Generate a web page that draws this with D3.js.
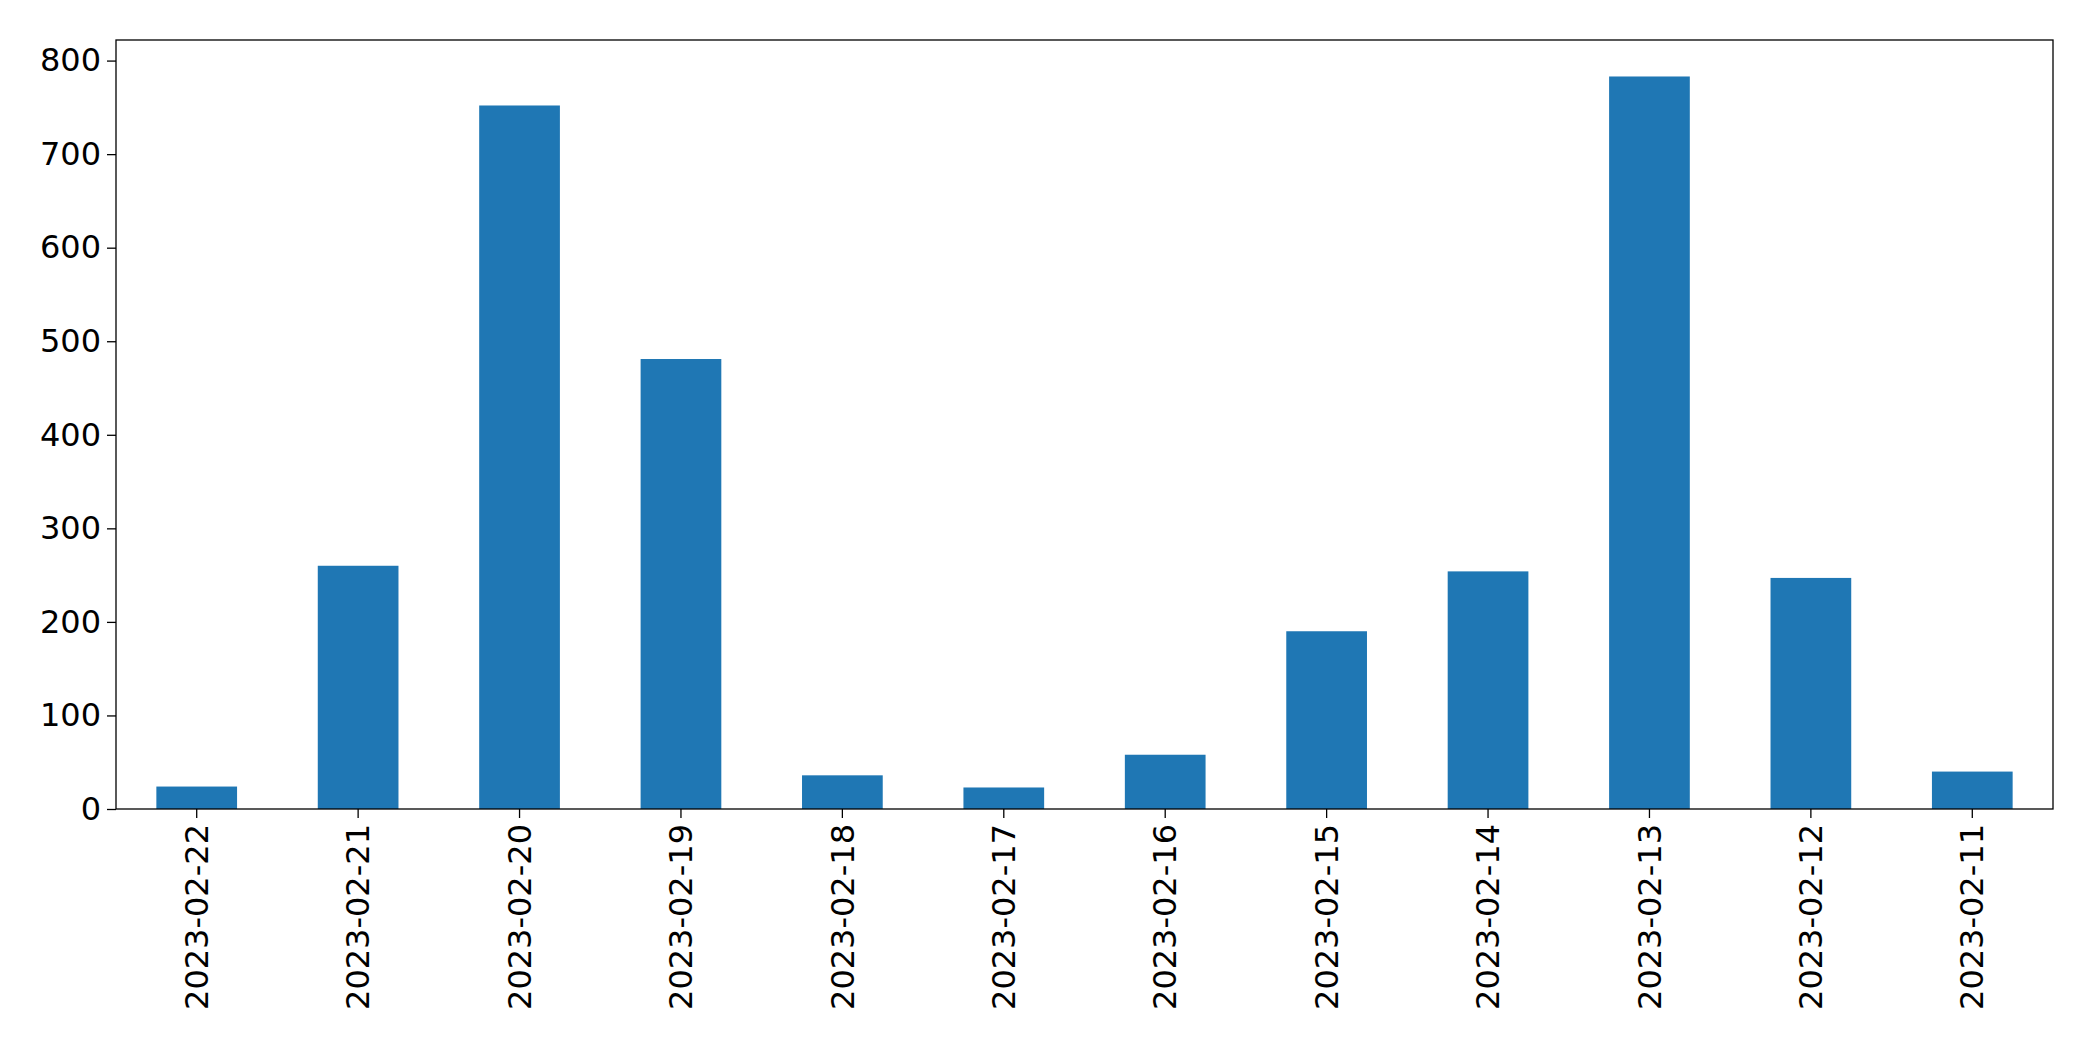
<!DOCTYPE html>
<html><head><meta charset="utf-8">
<script src="https://cdn.jsdelivr.net/npm/d3@7"></script>
<style>body{margin:0;background:#fff}svg text{font-family:"DejaVu Sans",sans-serif}</style>
</head><body><svg id="chart" width="2093" height="1061"></svg>
<script>
const dates = ["2023-02-22","2023-02-21","2023-02-20","2023-02-19","2023-02-18","2023-02-17","2023-02-16","2023-02-15","2023-02-14","2023-02-13","2023-02-12","2023-02-11"];
const counts = [24, 260, 752, 481, 36, 23, 58, 190, 254, 783, 247, 40];
const yTicks = [0, 100, 200, 300, 400, 500, 600, 700, 800];

const margin = {left: 116, right: 40, top: 40, bottom: 252};
const W = 2093, H = 1061;
const svg = d3.select("#chart");

const x = d3.scaleBand().domain(dates).range([margin.left, W - margin.right])
  .paddingInner(0.5).paddingOuter(0.25);
const y = d3.scaleLinear().domain([0, 822]).range([H - margin.bottom, margin.top]);

svg.selectAll("rect.bar").data(dates).join("rect")
  .attr("class", "bar")
  .attr("x", d => x(d))
  .attr("width", x.bandwidth())
  .attr("y", (d, i) => y(counts[i]))
  .attr("height", (d, i) => y(0) - y(counts[i]))
  .attr("fill", "#1f77b4");

const yAxis = svg.append("g").attr("transform", `translate(${margin.left},0)`)
  .call(d3.axisLeft(y).tickValues(yTicks).tickSize(9).tickPadding(6));
const xAxis = svg.append("g").attr("transform", `translate(0,${H - margin.bottom})`)
  .call(d3.axisBottom(x).tickSize(9).tickPadding(6));

[xAxis, yAxis].forEach(g => {
  g.select(".domain").remove();
  g.selectAll("text").attr("font-size", 32).attr("fill", "#000");
  g.selectAll("line").attr("stroke", "#000").attr("stroke-width", 1.3);
});
xAxis.selectAll("text")
  .attr("transform", "rotate(-90)")
  .attr("text-anchor", "end")
  .attr("dy", "0.35em")
  .attr("x", -15).attr("y", 0);

svg.append("rect")
  .attr("x", margin.left).attr("y", margin.top)
  .attr("width", W - margin.left - margin.right)
  .attr("height", H - margin.top - margin.bottom)
  .attr("fill", "none").attr("stroke", "#000").attr("stroke-width", 1.3);
</script></body></html>
